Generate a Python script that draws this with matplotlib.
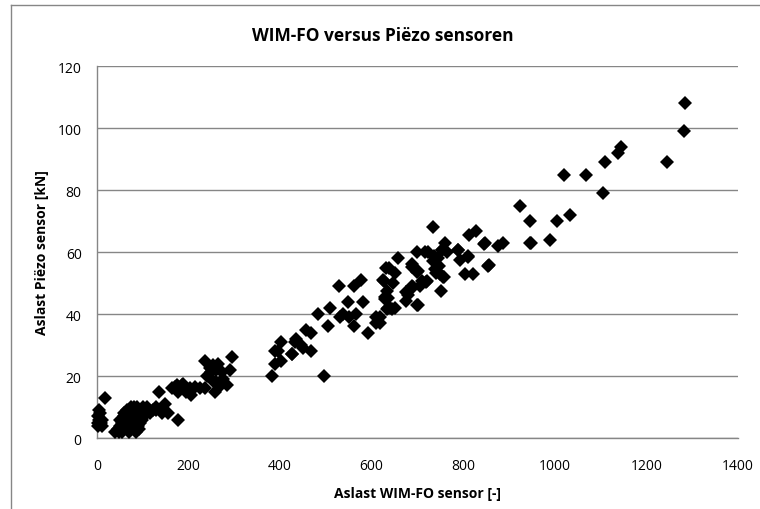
import matplotlib
matplotlib.use("Agg")
import matplotlib.pyplot as plt
from matplotlib.lines import Line2D

title = "WIM-FO versus Piëzo sensoren"
xlabel = "Aslast WIM-FO sensor [-]"
ylabel = "Aslast Piëzo sensor [kN]"
xticks = [0, 200, 400, 600, 800, 1000, 1200, 1400]
yticks = [0, 20, 40, 60, 80, 100, 120]

# WIM-FO values (x) and Piezo values (y)
wim = [
    # near-zero group
    2, 3, 4, 5, 6, 8, 10, 12, 3, 17,
    # dense low cluster
    40, 45, 48, 50, 52, 55, 55, 58, 60, 60, 62, 64, 65, 66, 68, 70, 70, 72, 72, 74,
    75, 76, 78, 78, 80, 80, 82, 84, 84, 85, 86, 88, 88, 90, 90, 92, 94, 95, 96, 98,
    100, 100, 102, 105, 108, 110, 112, 115, 60, 66, 75, 80, 92, 85, 70, 58, 50, 123, 141, 130,
    # 130-300 group
    136, 130, 149, 155, 177, 163, 170, 188, 177, 203, 206, 214, 235, 235, 254, 250, 261, 272,
    283, 294, 276, 258, 247, 185, 195, 175, 225, 260, 265, 290, 240, 255, 270, 180,
    # 380-560 group
    383, 495, 388, 403, 388, 403, 426, 435, 446, 457, 468, 468, 450, 483, 504, 508, 528,
    530, 537, 548, 550, 396, 425, 432,
    # 560-660 group
    562, 562, 577, 580, 565, 593, 610, 610, 624, 632, 628, 635, 618, 618, 640, 651,
    629, 633, 626, 637, 658, 651, 646, 636, 644, 633,
    # 670-900 group
    676, 676, 688, 687, 702, 710, 720, 698, 716, 737, 734, 746, 741, 749, 757, 753, 760,
    764, 789, 793, 811, 804, 822, 857, 847, 876, 887, 733, 828, 812, 846, 788, 810, 853,
    700, 689, 700, 755, 744, 751, 719, 705, 679, 691, 723, 739, 702, 753,
    # upper group
    924, 946, 946, 949, 989, 1004, 1034, 1019, 1069, 1106, 1110, 1139, 1144, 1244, 1283, 1284,
]
piezo = [
    5, 7, 9, 6, 8, 5, 4, 6, 4, 13,
    2, 3, 2, 4, 3, 5, 2, 4, 3, 6, 5, 7, 3, 4, 6, 5, 8, 3, 7, 4,
    6, 9, 5, 8, 3, 7, 6, 4, 9, 8, 5, 7, 10, 6, 4, 8, 5, 9, 7, 6,
    8, 10, 7, 9, 8, 10, 9, 8, 8, 9, 10, 10, 3, 2, 2, 7, 6, 9, 8, 10,
    15, 9, 11, 8, 6, 16, 16.5, 17.6, 15, 16, 14, 16.5, 16, 25, 23.6, 21.4, 18, 21.4,
    17, 26, 19, 15, 22.5, 17, 15, 17, 16, 22, 24, 22, 20, 18, 17, 16,
    20, 20, 24, 25, 28, 31, 27, 32, 30, 35, 34, 28, 29, 40, 36, 42, 49,
    39, 40, 44, 39, 28, 27, 31,
    49, 36, 51, 44, 40, 34, 39, 37, 51, 55, 45.5, 42, 39, 37, 42, 42,
    45, 47.5, 50.7, 55, 58, 53.4, 50, 45.3, 41.6, 41.6,
    44.3, 47, 49, 56, 54, 50.7, 50.7, 60, 60, 58.7, 57, 55.5, 53.4, 52.8, 51.8, 60.8, 63,
    60, 60.8, 57.6, 58.7, 52.8, 52.8, 55.7, 62.8, 62, 62.8, 68, 66.7, 65.6, 62.6, 60.7, 58.3, 55.4,
    53.5, 55.2, 43, 52, 58, 47.5, 50.3, 49, 46, 48.6, 60, 54.5, 42.9, 60.8,
    75, 70, 63, 63, 64, 70, 72, 85, 85, 79, 89, 92, 94, 89, 99, 108,
]

fig = plt.figure(figsize=(7.6, 5.1), dpi=100)
ax = fig.add_axes([0.1276, 0.139, 0.8434, 0.7296])

grid_color = "#868686"
ax.set_xlim(0, 1400)
ax.set_ylim(0, 120)
ax.set_xticks(xticks)
ax.set_yticks(yticks)
ax.set_xticklabels([str(v) for v in xticks])
ax.set_yticklabels([str(v) for v in yticks])
ax.yaxis.grid(True, color=grid_color, linewidth=1.0)
ax.set_axisbelow(True)
for s in ["top", "right"]:
    ax.spines[s].set_visible(False)
for s in ["left", "bottom"]:
    ax.spines[s].set_color(grid_color)
    ax.spines[s].set_linewidth(1.0)
ax.tick_params(length=0, labelsize=10, colors="black")
ax.tick_params(axis="x", pad=14)
ax.tick_params(axis="y", pad=11)
for lab in ax.get_xticklabels() + ax.get_yticklabels():
    lab.set_family("Open Sans")

ax.plot(wim, piezo, linestyle="none", marker="D", markersize=7.0,
        color="black", markeredgewidth=0, clip_on=False, zorder=3)

ax.set_xlabel(xlabel, fontsize=10, fontweight="bold", family="Open Sans", labelpad=10)
ax.set_ylabel(ylabel, fontsize=10, fontweight="bold", family="Open Sans", labelpad=6)
fig.text(0.504, 0.93, title, ha="center", va="center", fontsize=12.5,
         fontweight="bold", family="Open Sans")

# outer chart border (left and top edges visible)
fig.add_artist(Line2D([11/760, 11/760], [0, 1 - 6/510], transform=fig.transFigure,
                      color=grid_color, linewidth=1.0))
fig.add_artist(Line2D([11/760, 1], [1 - 6/510, 1 - 6/510], transform=fig.transFigure,
                      color=grid_color, linewidth=1.0))

fig.savefig("out.png", dpi=100)
